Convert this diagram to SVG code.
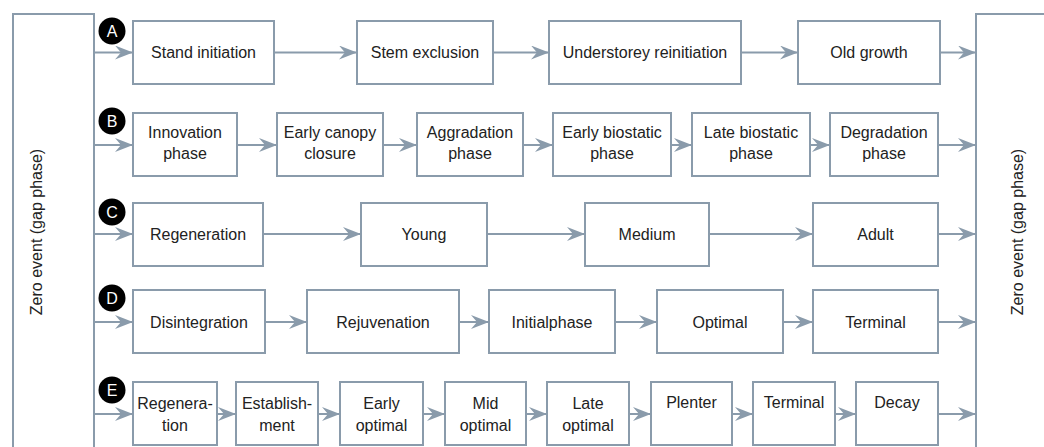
<svg xmlns="http://www.w3.org/2000/svg" width="1044" height="447" viewBox="0 0 1044 447">
<defs>
<marker id="ah" markerUnits="userSpaceOnUse" markerWidth="18" markerHeight="14" viewBox="0 0 18 14" refX="18" refY="7" orient="auto">
<path d="M0,0 L18,7 L0,14 L6,7 Z" fill="#8a9bab"/>
</marker>
<style>
.b{fill:#fff;stroke:#8a9bab;stroke-width:2}
.t{font-family:"Liberation Sans",Arial,sans-serif;font-size:16px;fill:#222;text-anchor:middle}
.c{fill:#000}
.l{font-family:"Liberation Sans",Arial,sans-serif;font-size:16px;fill:#fff;text-anchor:middle}
.e{fill:none;stroke:#8a9bab;stroke-width:2}
.a{fill:none;stroke:#8a9bab;stroke-width:2;marker-end:url(#ah)}
</style>
</defs>
<rect width="1044" height="447" fill="#fff"/>
<g id="zero-left">
<path class="e" d="M13,447 V14 H94 V447"/>
<text class="t" transform="translate(42,232) rotate(-90)">Zero event (gap phase)</text>
</g>
<g id="zero-right">
<path class="e" d="M1045,14 H976 V447"/>
<text class="t" transform="translate(1023,232) rotate(-90)">Zero event (gap phase)</text>
</g>
<g id="connectors">
<path class="a" d="M94,52.5 H133"/><path class="a" d="M274,52.5 H357"/><path class="a" d="M493,52.5 H549"/><path class="a" d="M741,52.5 H798"/><path class="a" d="M940,52.5 H976"/>
<path class="a" d="M94,145 H133"/><path class="a" d="M237,145 H277"/><path class="a" d="M383,145 H417"/><path class="a" d="M523,145 H553"/><path class="a" d="M671,145 H692"/><path class="a" d="M810,145 H830"/><path class="a" d="M938,145 H976"/>
<path class="a" d="M94,234 H133"/><path class="a" d="M263,234 H361"/><path class="a" d="M487,234 H585"/><path class="a" d="M709,234 H813"/><path class="a" d="M938,234 H976"/>
<path class="a" d="M94,322 H133"/><path class="a" d="M265,322 H307"/><path class="a" d="M459,322 H489"/><path class="a" d="M615,322 H657"/><path class="a" d="M783,322 H813"/><path class="a" d="M938,322 H976"/>
<path class="a" d="M94,414 H133"/><path class="a" d="M217,414 H236"/><path class="a" d="M318,414 H340"/><path class="a" d="M423,414 H445"/><path class="a" d="M526,414 H547"/><path class="a" d="M629,414 H651"/><path class="a" d="M732,414 H753"/><path class="a" d="M835,414 H856"/><path class="a" d="M938,414 H976"/>
</g>
<g id="label-A"><circle class="c" cx="112" cy="31" r="13.5"/><text class="l" x="112" y="37">A</text></g>
<g id="label-B"><circle class="c" cx="112" cy="121" r="13.5"/><text class="l" x="112" y="127">B</text></g>
<g id="label-C"><circle class="c" cx="112" cy="212" r="13.5"/><text class="l" x="112" y="218">C</text></g>
<g id="label-D"><circle class="c" cx="112" cy="298" r="13.5"/><text class="l" x="112" y="304">D</text></g>
<g id="label-E"><circle class="c" cx="112" cy="390" r="13.5"/><text class="l" x="112" y="396">E</text></g>
<g id="A1"><rect class="b" x="133" y="21" width="141" height="63"/><text class="t" x="203.5" y="58">Stand initiation</text></g>
<g id="A2"><rect class="b" x="357" y="21" width="136" height="63"/><text class="t" x="425" y="58">Stem exclusion</text></g>
<g id="A3"><rect class="b" x="549" y="21" width="192" height="63"/><text class="t" x="645" y="58">Understorey reinitiation</text></g>
<g id="A4"><rect class="b" x="798" y="21" width="142" height="63"/><text class="t" x="869" y="58">Old growth</text></g>
<g id="B1"><rect class="b" x="133" y="113" width="104" height="63"/><text class="t" x="185" y="137.5">Innovation</text><text class="t" x="185" y="158.5">phase</text></g>
<g id="B2"><rect class="b" x="277" y="113" width="106" height="63"/><text class="t" x="330" y="137.5">Early canopy</text><text class="t" x="330" y="158.5">closure</text></g>
<g id="B3"><rect class="b" x="417" y="113" width="106" height="63"/><text class="t" x="470" y="137.5">Aggradation</text><text class="t" x="470" y="158.5">phase</text></g>
<g id="B4"><rect class="b" x="553" y="113" width="118" height="63"/><text class="t" x="612" y="137.5">Early biostatic</text><text class="t" x="612" y="158.5">phase</text></g>
<g id="B5"><rect class="b" x="692" y="113" width="118" height="63"/><text class="t" x="751" y="137.5">Late biostatic</text><text class="t" x="751" y="158.5">phase</text></g>
<g id="B6"><rect class="b" x="830" y="113" width="108" height="63"/><text class="t" x="884" y="137.5">Degradation</text><text class="t" x="884" y="158.5">phase</text></g>
<g id="C1"><rect class="b" x="133" y="203" width="130" height="63"/><text class="t" x="198" y="239.5">Regeneration</text></g>
<g id="C2"><rect class="b" x="361" y="203" width="126" height="63"/><text class="t" x="424" y="239.5">Young</text></g>
<g id="C3"><rect class="b" x="585" y="203" width="124" height="63"/><text class="t" x="647" y="239.5">Medium</text></g>
<g id="C4"><rect class="b" x="813" y="203" width="125" height="63"/><text class="t" x="875.5" y="239.5">Adult</text></g>
<g id="D1"><rect class="b" x="133" y="290" width="132" height="63"/><text class="t" x="199" y="327.5">Disintegration</text></g>
<g id="D2"><rect class="b" x="307" y="290" width="152" height="63"/><text class="t" x="383" y="327.5">Rejuvenation</text></g>
<g id="D3"><rect class="b" x="489" y="290" width="126" height="63"/><text class="t" x="552" y="327.5">Initialphase</text></g>
<g id="D4"><rect class="b" x="657" y="290" width="126" height="63"/><text class="t" x="720" y="327.5">Optimal</text></g>
<g id="D5"><rect class="b" x="813" y="290" width="125" height="63"/><text class="t" x="875.5" y="327.5">Terminal</text></g>
<g id="E1"><rect class="b" x="133" y="382" width="84" height="63"/><text class="t" x="175" y="408.5">Regenera-</text><text class="t" x="175" y="430.5">tion</text></g>
<g id="E2"><rect class="b" x="236" y="382" width="82" height="63"/><text class="t" x="277" y="408.5">Establish-</text><text class="t" x="277" y="430.5">ment</text></g>
<g id="E3"><rect class="b" x="340" y="382" width="83" height="63"/><text class="t" x="381.5" y="408.5">Early</text><text class="t" x="381.5" y="430.5">optimal</text></g>
<g id="E4"><rect class="b" x="445" y="382" width="81" height="63"/><text class="t" x="485.5" y="408.5">Mid</text><text class="t" x="485.5" y="430.5">optimal</text></g>
<g id="E5"><rect class="b" x="547" y="382" width="82" height="63"/><text class="t" x="588" y="408.5">Late</text><text class="t" x="588" y="430.5">optimal</text></g>
<g id="E6"><rect class="b" x="651" y="382" width="81" height="63"/><text class="t" x="691.5" y="407.5">Plenter</text></g>
<g id="E7"><rect class="b" x="753" y="382" width="82" height="63"/><text class="t" x="794" y="407.5">Terminal</text></g>
<g id="E8"><rect class="b" x="856" y="382" width="82" height="63"/><text class="t" x="897" y="407.5">Decay</text></g>
</svg>
